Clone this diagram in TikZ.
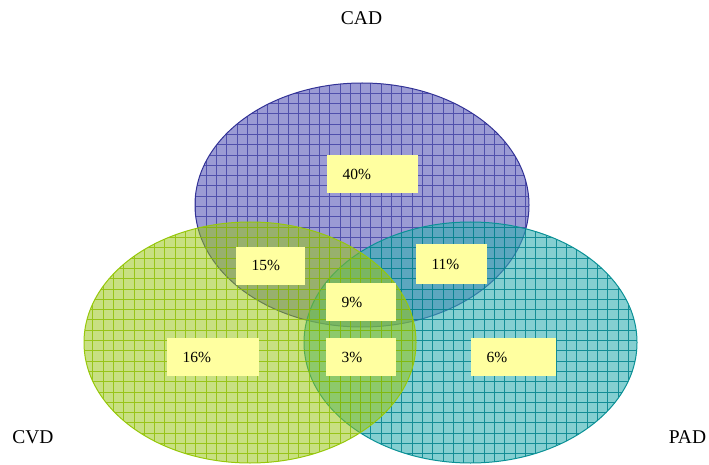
\documentclass[tikz,border=0pt]{standalone}
\usepackage{fontspec}
\setmainfont{Liberation Serif}
\usepackage{xcolor}
\usepackage{tikz}
\definecolor{cadfill}{RGB}{155,155,212}
\definecolor{cadgrid}{RGB}{80,80,172}
\definecolor{cadline}{RGB}{50,50,150}
\definecolor{padfill}{RGB}{50,175,178}
\definecolor{padgrid}{RGB}{0,130,140}
\definecolor{padline}{RGB}{10,145,150}
\definecolor{cvdfill}{RGB}{150,196,15}
\definecolor{cvdgrid}{RGB}{140,190,0}
\definecolor{cvdline}{RGB}{150,200,10}
\definecolor{boxyellow}{RGB}{255,255,160}
\tikzstyle{pct} = [rectangle, fill=boxyellow, inner xsep=15.5pt, inner ysep=0pt, minimum height=38pt, align=left, font=\fontsize{15.5}{18}\selectfont]
\tikzstyle{setname} = [font=\fontsize{19.5}{22}\selectfont]
\tikzstyle{gridline} = [line width=0.8pt, step=10.3pt]

\begin{document}
\begin{tikzpicture}[x=1pt,y=1pt]

	\useasboundingbox (0,0) rectangle (709,464);

	% CAD
	\begin{scope}
		\clip (362,259) ellipse [x radius=167, y radius=122];
		\fill [cadfill] (0,0) rectangle (709,464);
		\draw [gridline, cadgrid] (0,0) grid (709,464);
	\end{scope}
	\draw [cadline, line width=1pt] (362,259) ellipse [x radius=167, y radius=122];

	% PAD
	\begin{scope}
		\clip (470.5,121.5) ellipse [x radius=166.5, y radius=120.5];
		\fill [padfill, fill opacity=0.6] (0,0) rectangle (709,464);
		\draw [gridline, padgrid, draw opacity=0.85] (0,0) grid (709,464);
	\end{scope}
	\draw [padline, line width=1pt] (470.5,121.5) ellipse [x radius=166.5, y radius=120.5];

	% CVD
	\begin{scope}
		\clip (250,121.5) ellipse [x radius=166, y radius=120.5];
		\fill [cvdfill, fill opacity=0.52] (0,0) rectangle (709,464);
		\draw [gridline, cvdgrid, draw opacity=0.8] (0,0) grid (709,464);
	\end{scope}
	\draw [cvdline, line width=1pt] (250,121.5) ellipse [x radius=166, y radius=120.5];

	\node (p40) [pct, text width=60pt] at (372.5,289.5) {40\%};
	\node (p15) [pct, text width=38pt] at (270.5,198.5) {15\%};
	\node (p11) [pct, text width=40pt, minimum height=40pt] at (451.5,200) {11\%};
	\node (p9) [pct, text width=39pt] at (361,162) {9\%};
	\node (p16) [pct, text width=61pt] at (213,107) {16\%};
	\node (p3) [pct, text width=39pt] at (361,107) {3\%};
	\node (p6) [pct, text width=54pt] at (513.5,107) {6\%};

	\node (cad) [setname] at (361.5,445.5) {CAD};
	\node (cvd) [setname] at (33,26.5) {CVD};
	\node (pad) [setname] at (687.5,27) {PAD};

\end{tikzpicture}
\end{document}
